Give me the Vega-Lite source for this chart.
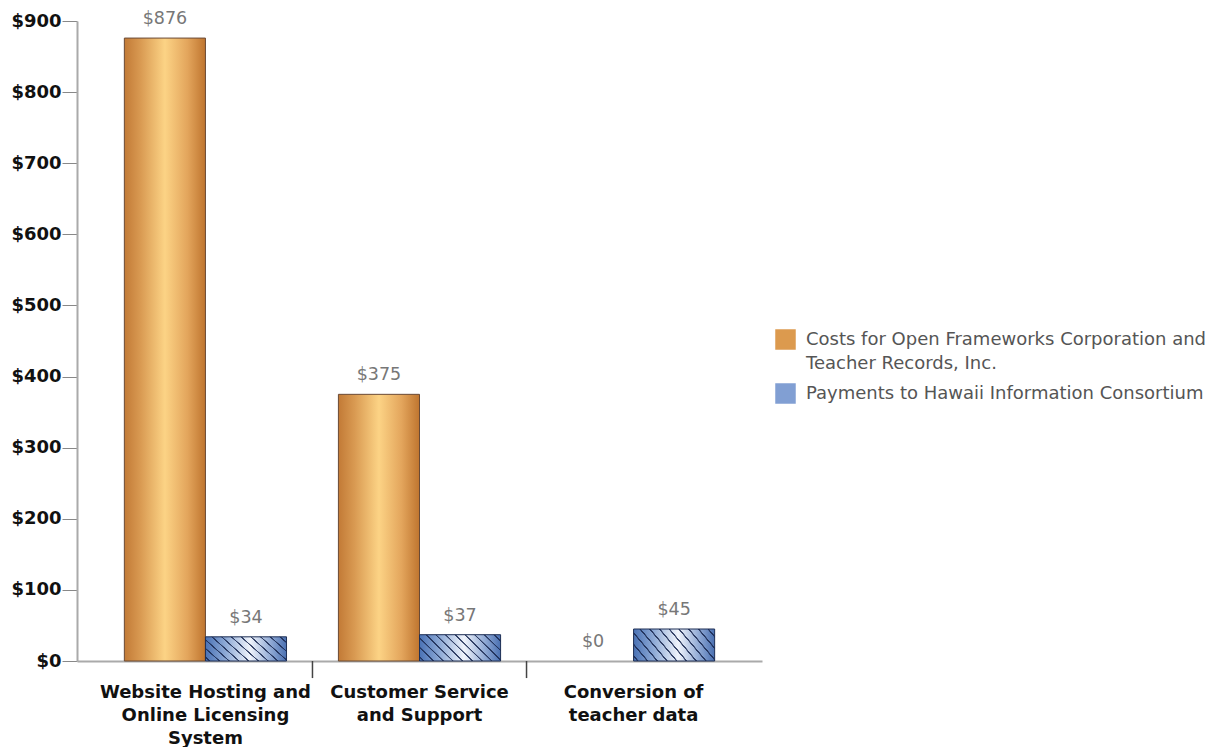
{
  "$schema": "https://vega.github.io/schema/vega-lite/v6.json",
  "width": 685,
  "height": 640,
  "autosize": {"type": "none"},
  "padding": {"left": 77, "top": 21, "right": 460, "bottom": 86},
  "background": "white",
  "config": {"view": {"stroke": null}, "font": "DejaVu Sans", "style": {"guide-label": {"lineHeight": 24}}},
  "data": {
    "values": [
      {"category": "Website Hosting and Online Licensing System", "series": "Costs for Open Frameworks Corporation and Teacher Records, Inc.", "value": 876},
      {"category": "Website Hosting and Online Licensing System", "series": "Payments to Hawaii Information Consortium", "value": 34},
      {"category": "Customer Service and Support", "series": "Costs for Open Frameworks Corporation and Teacher Records, Inc.", "value": 375},
      {"category": "Customer Service and Support", "series": "Payments to Hawaii Information Consortium", "value": 37},
      {"category": "Conversion of teacher data", "series": "Costs for Open Frameworks Corporation and Teacher Records, Inc.", "value": 0},
      {"category": "Conversion of teacher data", "series": "Payments to Hawaii Information Consortium", "value": 45}
    ]
  },
  "encoding": {
    "x": {
      "field": "category",
      "type": "nominal",
      "sort": null,
      "scale": {"paddingInner": 0, "paddingOuter": 0.1},
      "axis": {
        "title": null,
        "labelAngle": 0,
        "labelFontWeight": "bold",
        "labelFontSize": 18,
        "labelColor": "#111",
        "labelLineHeight": 23,
        "labelPadding": 22,
        "labelBaseline": "top",
        "labelLimit": 400,
        "domainColor": "#aaa",
        "domainWidth": 2,
        "ticks": false,
        "tickSize": 0,
        "labelExpr": "datum.value == 'Website Hosting and Online Licensing System' ? ['Website Hosting and', 'Online Licensing', 'System'] : datum.value == 'Customer Service and Support' ? ['Customer Service', 'and Support'] : ['Conversion of', 'teacher data']"
      }
    },
    "y": {
      "field": "value",
      "type": "quantitative",
      "scale": {"domain": [0, 900], "nice": false},
      "axis": {
        "title": null,
        "grid": false,
        "values": [0, 100, 200, 300, 400, 500, 600, 700, 800, 900],
        "format": "$,.0f",
        "labelFontWeight": "bold",
        "labelFontSize": 18,
        "labelColor": "#111",
        "labelPadding": 1,
        "domainColor": "#aaa",
        "domainWidth": 2,
        "tickColor": "#888",
        "tickSize": 15
      }
    }
  },
  "layer": [
    {
      "mark": {"type": "bar", "opacity": 0},
      "encoding": {
        "xOffset": {"field": "series", "sort": null, "scale": {"paddingInner": 0, "paddingOuter": 0.32}},
        "fill": {
          "field": "series",
          "type": "nominal",
          "sort": null,
          "scale": {"range": ["#dc9a4e", "#819fd3"]},
          "legend": {
            "title": null,
            "orient": "none",
            "legendX": 698,
            "legendY": 308,
            "symbolType": "square",
            "symbolSize": 420,
            "symbolOpacity": 1,
            "symbolStrokeWidth": 0,
            "labelFontSize": 18,
            "labelColor": "#555",
            "labelOffset": 10,
            "labelLimit": 600,
            "rowPadding": 10,
            "labelExpr": "datum.label == 'Costs for Open Frameworks Corporation and Teacher Records, Inc.' ? ['Costs for Open Frameworks Corporation and', 'Teacher Records, Inc.'] : datum.label"
          }
        }
      }
    },
    {
      "transform": [{"filter": "datum.series == 'Costs for Open Frameworks Corporation and Teacher Records, Inc.' && datum.value > 0"}],
      "mark": {
        "type": "bar",
        "stroke": "#6a4a35",
        "strokeWidth": 1,
        "fill": {"gradient": "linear", "x1": 0, "y1": 0, "x2": 1, "y2": 0, "stops": [
          {"offset": 0, "color": "#c27a36"},
          {"offset": 0.2, "color": "#d99a52"},
          {"offset": 0.5, "color": "#fcd385"},
          {"offset": 0.78, "color": "#e3a55c"},
          {"offset": 1, "color": "#bf752f"}
        ]}
      },
      "encoding": {
        "xOffset": {"field": "series", "sort": null, "scale": {"paddingInner": 0, "paddingOuter": 0.32}}
      }
    },
    {
      "transform": [{"filter": "datum.series == 'Payments to Hawaii Information Consortium'"}],
      "mark": {
        "type": "bar",
        "stroke": "#1e2f55",
        "strokeWidth": 1,
        "fill": {"gradient": "linear", "x1": 0, "y1": 0, "x2": 1, "y2": 0, "stops": [
          {"offset": 0, "color": "#4a72b5"},
          {"offset": 0.25, "color": "#8eaad6"},
          {"offset": 0.55, "color": "#f0f4fb"},
          {"offset": 0.8, "color": "#93acd6"},
          {"offset": 1, "color": "#4a70b2"}
        ]}
      },
      "encoding": {
        "xOffset": {"field": "series", "sort": null, "scale": {"paddingInner": 0, "paddingOuter": 0.32}}
      }
    },
    {
      "transform": [{"filter": "datum.series == 'Payments to Hawaii Information Consortium'"}],
      "mark": {
        "type": "bar",
        "strokeWidth": 0,
        "fill": {"gradient": "linear", "x1": 0, "y1": 1, "x2": 1.2, "y2": 0.6, "stops": [
          {"offset": 0.00, "color": "rgba(25,40,80,0)"},
          {"offset": 0.03, "color": "rgba(25,40,80,0)"},
          {"offset": 0.034, "color": "rgba(25,40,80,0.85)"},
          {"offset": 0.046, "color": "rgba(25,40,80,0.85)"},
          {"offset": 0.05, "color": "rgba(25,40,80,0)"},
          {"offset": 0.12, "color": "rgba(25,40,80,0)"},
          {"offset": 0.124, "color": "rgba(25,40,80,0.85)"},
          {"offset": 0.136, "color": "rgba(25,40,80,0.85)"},
          {"offset": 0.14, "color": "rgba(25,40,80,0)"},
          {"offset": 0.21, "color": "rgba(25,40,80,0)"},
          {"offset": 0.214, "color": "rgba(25,40,80,0.85)"},
          {"offset": 0.226, "color": "rgba(25,40,80,0.85)"},
          {"offset": 0.23, "color": "rgba(25,40,80,0)"},
          {"offset": 0.30, "color": "rgba(25,40,80,0)"},
          {"offset": 0.304, "color": "rgba(25,40,80,0.85)"},
          {"offset": 0.316, "color": "rgba(25,40,80,0.85)"},
          {"offset": 0.32, "color": "rgba(25,40,80,0)"},
          {"offset": 0.39, "color": "rgba(25,40,80,0)"},
          {"offset": 0.394, "color": "rgba(25,40,80,0.85)"},
          {"offset": 0.406, "color": "rgba(25,40,80,0.85)"},
          {"offset": 0.41, "color": "rgba(25,40,80,0)"},
          {"offset": 0.48, "color": "rgba(25,40,80,0)"},
          {"offset": 0.484, "color": "rgba(25,40,80,0.85)"},
          {"offset": 0.496, "color": "rgba(25,40,80,0.85)"},
          {"offset": 0.50, "color": "rgba(25,40,80,0)"},
          {"offset": 0.57, "color": "rgba(25,40,80,0)"},
          {"offset": 0.574, "color": "rgba(25,40,80,0.85)"},
          {"offset": 0.586, "color": "rgba(25,40,80,0.85)"},
          {"offset": 0.59, "color": "rgba(25,40,80,0)"},
          {"offset": 0.66, "color": "rgba(25,40,80,0)"},
          {"offset": 0.664, "color": "rgba(25,40,80,0.85)"},
          {"offset": 0.676, "color": "rgba(25,40,80,0.85)"},
          {"offset": 0.68, "color": "rgba(25,40,80,0)"},
          {"offset": 0.75, "color": "rgba(25,40,80,0)"},
          {"offset": 0.754, "color": "rgba(25,40,80,0.85)"},
          {"offset": 0.766, "color": "rgba(25,40,80,0.85)"},
          {"offset": 0.77, "color": "rgba(25,40,80,0)"},
          {"offset": 0.84, "color": "rgba(25,40,80,0)"},
          {"offset": 0.844, "color": "rgba(25,40,80,0.85)"},
          {"offset": 0.856, "color": "rgba(25,40,80,0.85)"},
          {"offset": 0.86, "color": "rgba(25,40,80,0)"},
          {"offset": 0.93, "color": "rgba(25,40,80,0)"},
          {"offset": 0.934, "color": "rgba(25,40,80,0.85)"},
          {"offset": 0.946, "color": "rgba(25,40,80,0.85)"},
          {"offset": 0.95, "color": "rgba(25,40,80,0)"},
          {"offset": 1.0, "color": "rgba(25,40,80,0)"}
        ]}
      },
      "encoding": {
        "xOffset": {"field": "series", "sort": null, "scale": {"paddingInner": 0, "paddingOuter": 0.32}}
      }
    },
    {
      "mark": {"type": "text", "baseline": "alphabetic", "dy": -14, "fontSize": 17.5, "color": "#777"},
      "encoding": {
        "xOffset": {"field": "series", "sort": null, "scale": {"paddingInner": 0, "paddingOuter": 0.32}},
        "text": {"field": "value", "type": "quantitative", "format": "$,.0f"}
      }
    },
    {
      "transform": [{"filter": "datum.series == 'Payments to Hawaii Information Consortium' && datum.category != 'Website Hosting and Online Licensing System'"}],
      "mark": {"type": "rule", "color": "#444", "strokeWidth": 1.5},
      "encoding": {
        "x": {"field": "category", "type": "nominal", "sort": null, "bandPosition": 0},
        "y": {"datum": 0},
        "y2": {"datum": -24}
      }
    }
  ]
}
